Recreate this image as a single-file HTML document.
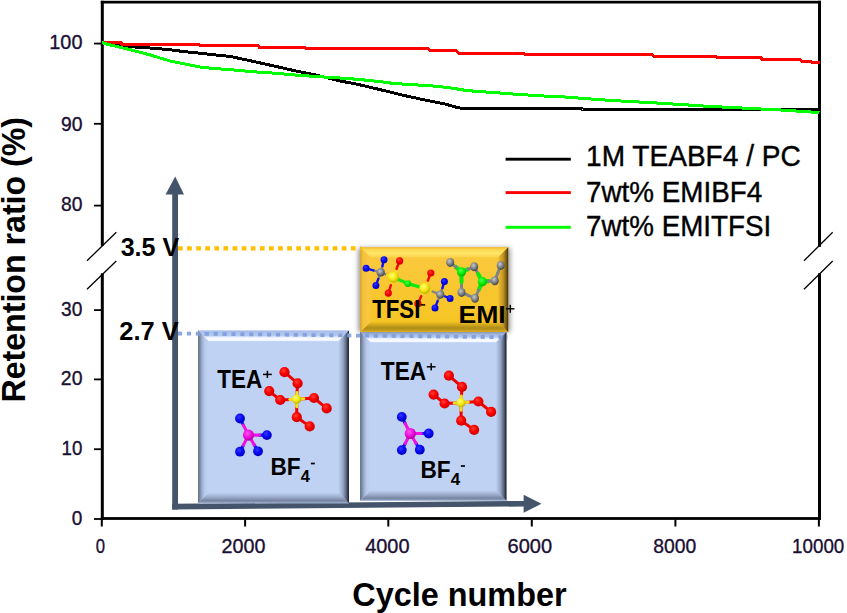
<!DOCTYPE html>
<html><head><meta charset="utf-8"><title>Retention ratio vs cycle number</title>
<style>html,body{margin:0;padding:0;background:#fff;}svg{display:block;}text{font-family:"Liberation Sans",sans-serif;}</style>
</head><body>
<svg width="847" height="613" viewBox="0 0 847 613">
<defs>
<linearGradient id="bL" x1="0" y1="0" x2="1" y2="0"><stop offset="0" stop-color="#66748f"/><stop offset="0.15" stop-color="#76859f"/><stop offset="0.4" stop-color="#a0b1d2"/><stop offset="0.65" stop-color="#b9ccee"/><stop offset="1" stop-color="#bfd2f4"/></linearGradient>
<linearGradient id="bR" x1="0" y1="0" x2="1" y2="0"><stop offset="0" stop-color="#bfd2f4"/><stop offset="0.45" stop-color="#93a3c2"/><stop offset="0.78" stop-color="#525e76"/><stop offset="0.9" stop-color="#2e3546"/><stop offset="1" stop-color="#1d212c"/></linearGradient>
<linearGradient id="bT" x1="0" y1="0" x2="0" y2="1"><stop offset="0" stop-color="#a6bcea"/><stop offset="0.48" stop-color="#b6caf0"/><stop offset="0.6" stop-color="#e4ecfa"/><stop offset="0.75" stop-color="#f8fbff"/><stop offset="0.93" stop-color="#f2f6fd"/><stop offset="1" stop-color="#d2e0f8"/></linearGradient>
<linearGradient id="bB" x1="0" y1="0" x2="0" y2="1"><stop offset="0" stop-color="#bfd2f4"/><stop offset="0.5" stop-color="#94a4c3"/><stop offset="0.75" stop-color="#7785a0"/><stop offset="0.9" stop-color="#8998b6"/><stop offset="1" stop-color="#a9b9d9"/></linearGradient>
<linearGradient id="oL" x1="0" y1="0" x2="1" y2="0"><stop offset="0" stop-color="#d39f2a"/><stop offset="0.25" stop-color="#f4c13c"/><stop offset="1" stop-color="#fac844"/></linearGradient>
<linearGradient id="oR" x1="0" y1="0" x2="1" y2="0"><stop offset="0" stop-color="#f2bd34"/><stop offset="0.5" stop-color="#c39422"/><stop offset="0.85" stop-color="#6e5410"/><stop offset="1" stop-color="#3a2c08"/></linearGradient>
<linearGradient id="oT" x1="0" y1="0" x2="0" y2="1"><stop offset="0" stop-color="#efb932"/><stop offset="0.22" stop-color="#fcd650"/><stop offset="0.6" stop-color="#ffe768"/><stop offset="1" stop-color="#fdd34a"/></linearGradient>
<linearGradient id="oB" x1="0" y1="0" x2="0" y2="1"><stop offset="0" stop-color="#f3c120"/><stop offset="0.6" stop-color="#ad8c18"/><stop offset="0.75" stop-color="#b9941a"/><stop offset="1" stop-color="#dcae20"/></linearGradient>
<linearGradient id="oF" x1="0" y1="0" x2="0" y2="1"><stop offset="0" stop-color="#fbc940"/><stop offset="0.5" stop-color="#f8c730"/><stop offset="1" stop-color="#f5c421"/></linearGradient>
<radialGradient id="gR" cx="0.4" cy="0.35" r="0.65"><stop offset="0" stop-color="#ff4030"/><stop offset="0.55" stop-color="#f80000"/><stop offset="1" stop-color="#cc0000"/></radialGradient>
<radialGradient id="gB" cx="0.4" cy="0.35" r="0.65"><stop offset="0" stop-color="#3038ff"/><stop offset="0.55" stop-color="#0808f4"/><stop offset="1" stop-color="#0000b8"/></radialGradient>
<radialGradient id="gY" cx="0.4" cy="0.35" r="0.65"><stop offset="0" stop-color="#ffff70"/><stop offset="0.55" stop-color="#f4e818"/><stop offset="1" stop-color="#c0b000"/></radialGradient>
<radialGradient id="gM" cx="0.4" cy="0.35" r="0.65"><stop offset="0" stop-color="#ff50f0"/><stop offset="0.55" stop-color="#f010e0"/><stop offset="1" stop-color="#b000a0"/></radialGradient>
<radialGradient id="gG" cx="0.4" cy="0.35" r="0.65"><stop offset="0" stop-color="#50ff50"/><stop offset="0.55" stop-color="#08f008"/><stop offset="1" stop-color="#00b800"/></radialGradient>
<radialGradient id="gC" cx="0.4" cy="0.35" r="0.65"><stop offset="0" stop-color="#c8c8c8"/><stop offset="0.55" stop-color="#808488"/><stop offset="1" stop-color="#44464a"/></radialGradient>
<filter id="sh" x="-10%" y="-10%" width="125%" height="125%"><feGaussianBlur stdDeviation="2.4"/></filter>
</defs>
<rect width="847" height="613" fill="#fff"/>
<polygon points="172.2,194 172.2,509.4 178,509.4 178,194" fill="#44546a"/>
<polygon points="175.2,176.5 165.6,194.5 184,194.5" fill="#44546a"/>
<polygon points="172.2,503.8 172.2,509.4 524,506.5 524,500.9" fill="#44546a"/>
<polygon points="541.5,503.7 523.6,494.8 523.6,512.8" fill="#44546a"/>
<rect x="198" y="330.6" width="151" height="172.59999999999997" fill="#bfd2f4"/>
<polygon points="198,330.6 349,330.6 338.4,341.20000000000005 208.6,341.20000000000005" fill="url(#bT)"/>
<polygon points="198,503.2 349,503.2 338.4,492.59999999999997 208.6,492.59999999999997" fill="url(#bB)"/>
<polygon points="198,330.6 208.6,341.20000000000005 208.6,492.59999999999997 198,503.2" fill="url(#bL)"/>
<polygon points="349,330.6 338.4,341.20000000000005 338.4,492.59999999999997 349,503.2" fill="url(#bR)"/>
<rect x="360" y="332.0" width="146.5" height="168.8" fill="#bfd2f4"/>
<polygon points="360,332.0 506.5,332.0 495.9,342.6 370.6,342.6" fill="url(#bT)"/>
<polygon points="360,500.8 506.5,500.8 495.9,490.2 370.6,490.2" fill="url(#bB)"/>
<polygon points="360,332.0 370.6,342.6 370.6,490.2 360,500.8" fill="url(#bL)"/>
<polygon points="506.5,332.0 495.9,342.6 495.9,490.2 506.5,500.8" fill="url(#bR)"/>
<rect x="358.5" y="248" width="151.5" height="84" fill="#444" opacity="0.6" filter="url(#sh)"/>
<rect x="360.3" y="247.2" width="147.89999999999998" height="84.69999999999999" fill="url(#oF)"/>
<polygon points="360.3,247.2 508.2,247.2 498.2,257.2 370.3,257.2" fill="url(#oT)"/>
<polygon points="360.3,331.9 508.2,331.9 498.2,321.9 370.3,321.9" fill="url(#oB)"/>
<polygon points="360.3,247.2 370.3,257.2 370.3,321.9 360.3,331.9" fill="url(#oL)"/>
<polygon points="508.2,247.2 498.2,257.2 498.2,321.9 508.2,331.9" fill="url(#oR)"/>
<line x1="178" y1="248.3" x2="361" y2="248.3" stroke="#ffc000" stroke-width="4.2" stroke-dasharray="4.7 4.4"/>
<line x1="178" y1="333.5" x2="507.8" y2="337.27" stroke="#7f9edb" stroke-width="3.8" stroke-dasharray="4.2 4.7" opacity="0.9"/>
<line x1="296.6" y1="399.2" x2="297.6" y2="383.4" stroke="#f00000" stroke-width="3" stroke-linecap="round"/>
<line x1="297.6" y1="383.4" x2="284.5" y2="372.2" stroke="#f00000" stroke-width="3" stroke-linecap="round"/>
<line x1="296.6" y1="399.2" x2="297.0" y2="392.6" stroke="#f0e020" stroke-width="3" stroke-linecap="round"/>
<line x1="296.6" y1="399.2" x2="280.2" y2="400.0" stroke="#f00000" stroke-width="3" stroke-linecap="round"/>
<line x1="280.2" y1="400.0" x2="269.2" y2="391.1" stroke="#f00000" stroke-width="3" stroke-linecap="round"/>
<line x1="296.6" y1="399.2" x2="289.7" y2="399.5" stroke="#f0e020" stroke-width="3" stroke-linecap="round"/>
<line x1="296.6" y1="399.2" x2="314.0" y2="398.0" stroke="#f00000" stroke-width="3" stroke-linecap="round"/>
<line x1="314.0" y1="398.0" x2="326.7" y2="408.4" stroke="#f00000" stroke-width="3" stroke-linecap="round"/>
<line x1="296.6" y1="399.2" x2="303.9" y2="398.7" stroke="#f0e020" stroke-width="3" stroke-linecap="round"/>
<line x1="296.6" y1="399.2" x2="296.8" y2="417.2" stroke="#f00000" stroke-width="3" stroke-linecap="round"/>
<line x1="296.8" y1="417.2" x2="309.7" y2="426.4" stroke="#f00000" stroke-width="3" stroke-linecap="round"/>
<line x1="296.6" y1="399.2" x2="296.7" y2="406.8" stroke="#f0e020" stroke-width="3" stroke-linecap="round"/>
<circle cx="284.5" cy="372.2" r="5.1" fill="url(#gR)"/>
<circle cx="297.6" cy="383.4" r="5.1" fill="url(#gR)"/>
<circle cx="269.2" cy="391.1" r="5.1" fill="url(#gR)"/>
<circle cx="280.2" cy="400.0" r="5.1" fill="url(#gR)"/>
<circle cx="314.0" cy="398.0" r="5.1" fill="url(#gR)"/>
<circle cx="326.7" cy="408.4" r="5.1" fill="url(#gR)"/>
<circle cx="296.8" cy="417.2" r="5.1" fill="url(#gR)"/>
<circle cx="309.7" cy="426.4" r="5.1" fill="url(#gR)"/>
<circle cx="296.6" cy="399.2" r="4.6" fill="url(#gY)"/>
<line x1="243.4" y1="425.1" x2="240.0" y2="418.5" stroke="#1010f0" stroke-width="3.1" stroke-linecap="round"/>
<line x1="248.5" y1="435.1" x2="243.4" y2="425.1" stroke="#f010e0" stroke-width="3.1" stroke-linecap="round"/>
<line x1="259.5" y1="435.1" x2="266.9" y2="435.1" stroke="#1010f0" stroke-width="3.1" stroke-linecap="round"/>
<line x1="248.5" y1="435.1" x2="259.5" y2="435.1" stroke="#f010e0" stroke-width="3.1" stroke-linecap="round"/>
<line x1="243.4" y1="445.1" x2="240.0" y2="451.7" stroke="#1010f0" stroke-width="3.1" stroke-linecap="round"/>
<line x1="248.5" y1="435.1" x2="243.4" y2="445.1" stroke="#f010e0" stroke-width="3.1" stroke-linecap="round"/>
<line x1="254.2" y1="444.8" x2="258.0" y2="451.3" stroke="#1010f0" stroke-width="3.1" stroke-linecap="round"/>
<line x1="248.5" y1="435.1" x2="254.2" y2="444.8" stroke="#f010e0" stroke-width="3.1" stroke-linecap="round"/>
<circle cx="240.0" cy="418.5" r="4.9" fill="url(#gB)"/>
<circle cx="266.9" cy="435.1" r="4.9" fill="url(#gB)"/>
<circle cx="240.0" cy="451.7" r="4.9" fill="url(#gB)"/>
<circle cx="258.0" cy="451.3" r="4.9" fill="url(#gB)"/>
<circle cx="248.5" cy="435.1" r="5.6" fill="url(#gM)"/>
<line x1="461.0" y1="402.7" x2="462.0" y2="386.9" stroke="#f00000" stroke-width="3" stroke-linecap="round"/>
<line x1="462.0" y1="386.9" x2="448.9" y2="375.7" stroke="#f00000" stroke-width="3" stroke-linecap="round"/>
<line x1="461.0" y1="402.7" x2="461.4" y2="396.1" stroke="#f0e020" stroke-width="3" stroke-linecap="round"/>
<line x1="461.0" y1="402.7" x2="444.6" y2="403.5" stroke="#f00000" stroke-width="3" stroke-linecap="round"/>
<line x1="444.6" y1="403.5" x2="433.6" y2="394.6" stroke="#f00000" stroke-width="3" stroke-linecap="round"/>
<line x1="461.0" y1="402.7" x2="454.1" y2="403.0" stroke="#f0e020" stroke-width="3" stroke-linecap="round"/>
<line x1="461.0" y1="402.7" x2="478.4" y2="401.5" stroke="#f00000" stroke-width="3" stroke-linecap="round"/>
<line x1="478.4" y1="401.5" x2="491.1" y2="411.9" stroke="#f00000" stroke-width="3" stroke-linecap="round"/>
<line x1="461.0" y1="402.7" x2="468.3" y2="402.2" stroke="#f0e020" stroke-width="3" stroke-linecap="round"/>
<line x1="461.0" y1="402.7" x2="461.2" y2="420.7" stroke="#f00000" stroke-width="3" stroke-linecap="round"/>
<line x1="461.2" y1="420.7" x2="474.1" y2="429.9" stroke="#f00000" stroke-width="3" stroke-linecap="round"/>
<line x1="461.0" y1="402.7" x2="461.1" y2="410.3" stroke="#f0e020" stroke-width="3" stroke-linecap="round"/>
<circle cx="448.9" cy="375.7" r="5.1" fill="url(#gR)"/>
<circle cx="462.0" cy="386.9" r="5.1" fill="url(#gR)"/>
<circle cx="433.6" cy="394.6" r="5.1" fill="url(#gR)"/>
<circle cx="444.6" cy="403.5" r="5.1" fill="url(#gR)"/>
<circle cx="478.4" cy="401.5" r="5.1" fill="url(#gR)"/>
<circle cx="491.1" cy="411.9" r="5.1" fill="url(#gR)"/>
<circle cx="461.2" cy="420.7" r="5.1" fill="url(#gR)"/>
<circle cx="474.1" cy="429.9" r="5.1" fill="url(#gR)"/>
<circle cx="461.0" cy="402.7" r="4.6" fill="url(#gY)"/>
<line x1="405.2" y1="423.5" x2="401.8" y2="416.9" stroke="#1010f0" stroke-width="3.1" stroke-linecap="round"/>
<line x1="410.3" y1="433.5" x2="405.2" y2="423.5" stroke="#f010e0" stroke-width="3.1" stroke-linecap="round"/>
<line x1="421.3" y1="433.5" x2="428.7" y2="433.5" stroke="#1010f0" stroke-width="3.1" stroke-linecap="round"/>
<line x1="410.3" y1="433.5" x2="421.3" y2="433.5" stroke="#f010e0" stroke-width="3.1" stroke-linecap="round"/>
<line x1="405.2" y1="443.5" x2="401.8" y2="450.1" stroke="#1010f0" stroke-width="3.1" stroke-linecap="round"/>
<line x1="410.3" y1="433.5" x2="405.2" y2="443.5" stroke="#f010e0" stroke-width="3.1" stroke-linecap="round"/>
<line x1="416.0" y1="443.2" x2="419.8" y2="449.7" stroke="#1010f0" stroke-width="3.1" stroke-linecap="round"/>
<line x1="410.3" y1="433.5" x2="416.0" y2="443.2" stroke="#f010e0" stroke-width="3.1" stroke-linecap="round"/>
<circle cx="401.8" cy="416.9" r="4.9" fill="url(#gB)"/>
<circle cx="428.7" cy="433.5" r="4.9" fill="url(#gB)"/>
<circle cx="401.8" cy="450.1" r="4.9" fill="url(#gB)"/>
<circle cx="419.8" cy="449.7" r="4.9" fill="url(#gB)"/>
<circle cx="410.3" cy="433.5" r="5.6" fill="url(#gM)"/>
<line x1="380.7" y1="272.4" x2="382.4" y2="266.1" stroke="#808488" stroke-width="2.4" stroke-linecap="round"/>
<line x1="382.4" y1="266.1" x2="384.0" y2="259.8" stroke="#1010f0" stroke-width="2.4" stroke-linecap="round"/>
<line x1="380.7" y1="272.4" x2="373.4" y2="270.4" stroke="#808488" stroke-width="2.4" stroke-linecap="round"/>
<line x1="373.4" y1="270.4" x2="366.1" y2="268.3" stroke="#1010f0" stroke-width="2.4" stroke-linecap="round"/>
<line x1="380.7" y1="272.4" x2="378.3" y2="278.9" stroke="#808488" stroke-width="2.4" stroke-linecap="round"/>
<line x1="378.3" y1="278.9" x2="375.9" y2="285.4" stroke="#1010f0" stroke-width="2.4" stroke-linecap="round"/>
<line x1="380.7" y1="272.4" x2="387.0" y2="274.8" stroke="#808488" stroke-width="2.4" stroke-linecap="round"/>
<line x1="387.0" y1="274.8" x2="393.4" y2="277.2" stroke="#f0e018" stroke-width="2.4" stroke-linecap="round"/>
<line x1="393.4" y1="277.2" x2="396.5" y2="269.0" stroke="#f0e018" stroke-width="2.4" stroke-linecap="round"/>
<line x1="396.5" y1="269.0" x2="399.6" y2="260.9" stroke="#f00808" stroke-width="2.4" stroke-linecap="round"/>
<line x1="393.4" y1="277.2" x2="390.9" y2="285.1" stroke="#f0e018" stroke-width="2.4" stroke-linecap="round"/>
<line x1="390.9" y1="285.1" x2="388.3" y2="293.1" stroke="#f00808" stroke-width="2.4" stroke-linecap="round"/>
<line x1="424.7" y1="288.4" x2="427.8" y2="280.7" stroke="#f0e018" stroke-width="2.4" stroke-linecap="round"/>
<line x1="427.8" y1="280.7" x2="430.8" y2="273.0" stroke="#f00808" stroke-width="2.4" stroke-linecap="round"/>
<line x1="424.7" y1="288.4" x2="421.3" y2="296.0" stroke="#f0e018" stroke-width="2.4" stroke-linecap="round"/>
<line x1="421.3" y1="296.0" x2="417.9" y2="303.7" stroke="#f00808" stroke-width="2.4" stroke-linecap="round"/>
<line x1="424.7" y1="288.4" x2="432.5" y2="291.5" stroke="#f0e018" stroke-width="2.4" stroke-linecap="round"/>
<line x1="432.5" y1="291.5" x2="440.3" y2="294.6" stroke="#808488" stroke-width="2.4" stroke-linecap="round"/>
<line x1="440.3" y1="294.6" x2="442.4" y2="288.1" stroke="#808488" stroke-width="2.4" stroke-linecap="round"/>
<line x1="442.4" y1="288.1" x2="444.4" y2="281.6" stroke="#1010f0" stroke-width="2.4" stroke-linecap="round"/>
<line x1="440.3" y1="294.6" x2="445.2" y2="296.5" stroke="#808488" stroke-width="2.4" stroke-linecap="round"/>
<line x1="445.2" y1="296.5" x2="450.1" y2="298.4" stroke="#1010f0" stroke-width="2.4" stroke-linecap="round"/>
<line x1="440.3" y1="294.6" x2="437.6" y2="301.2" stroke="#808488" stroke-width="2.4" stroke-linecap="round"/>
<line x1="437.6" y1="301.2" x2="435.0" y2="307.9" stroke="#1010f0" stroke-width="2.4" stroke-linecap="round"/>
<line x1="393.4" y1="277.2" x2="407.8" y2="283.6" stroke="#10e810" stroke-width="3.2" stroke-linecap="round"/>
<line x1="407.8" y1="283.6" x2="424.7" y2="288.4" stroke="#10e810" stroke-width="3.2" stroke-linecap="round"/>
<circle cx="384.0" cy="259.8" r="3.5" fill="url(#gB)"/>
<circle cx="366.1" cy="268.3" r="3.5" fill="url(#gB)"/>
<circle cx="375.9" cy="285.4" r="3.5" fill="url(#gB)"/>
<circle cx="380.7" cy="272.4" r="4.1" fill="url(#gC)"/>
<circle cx="393.4" cy="277.2" r="5.5" fill="url(#gY)"/>
<circle cx="399.6" cy="260.9" r="3.6" fill="url(#gR)"/>
<circle cx="388.3" cy="293.1" r="3.6" fill="url(#gR)"/>
<circle cx="407.8" cy="283.6" r="3.4" fill="url(#gG)"/>
<circle cx="424.7" cy="288.4" r="5.5" fill="url(#gY)"/>
<circle cx="430.8" cy="273.0" r="3.6" fill="url(#gR)"/>
<circle cx="417.9" cy="303.7" r="3.6" fill="url(#gR)"/>
<circle cx="440.3" cy="294.6" r="4.1" fill="url(#gC)"/>
<circle cx="444.4" cy="281.6" r="3.5" fill="url(#gB)"/>
<circle cx="450.1" cy="298.4" r="3.5" fill="url(#gB)"/>
<circle cx="435.0" cy="307.9" r="3.5" fill="url(#gB)"/>
<line x1="461.5" y1="271.9" x2="455.9" y2="267.1" stroke="#10e810" stroke-width="4.2" stroke-linecap="round"/>
<line x1="455.9" y1="267.1" x2="450.2" y2="262.4" stroke="#808488" stroke-width="3.0" stroke-linecap="round"/>
<line x1="461.5" y1="271.9" x2="467.9" y2="269.3" stroke="#10e810" stroke-width="4.2" stroke-linecap="round"/>
<line x1="467.9" y1="269.3" x2="474.2" y2="266.7" stroke="#808488" stroke-width="3.0" stroke-linecap="round"/>
<line x1="474.2" y1="266.7" x2="478.3" y2="274.2" stroke="#808488" stroke-width="3.0" stroke-linecap="round"/>
<line x1="478.3" y1="274.2" x2="482.4" y2="281.7" stroke="#10e810" stroke-width="4.2" stroke-linecap="round"/>
<line x1="482.4" y1="281.7" x2="478.7" y2="290.0" stroke="#10e810" stroke-width="4.2" stroke-linecap="round"/>
<line x1="478.7" y1="290.0" x2="475.0" y2="298.3" stroke="#808488" stroke-width="3.0" stroke-linecap="round"/>
<line x1="475.0" y1="298.3" x2="468.2" y2="295.4" stroke="#808488" stroke-width="3.0" stroke-linecap="round"/>
<line x1="468.2" y1="295.4" x2="461.5" y2="292.4" stroke="#808488" stroke-width="3.0" stroke-linecap="round"/>
<line x1="461.5" y1="292.4" x2="461.5" y2="282.1" stroke="#808488" stroke-width="3.0" stroke-linecap="round"/>
<line x1="461.5" y1="282.1" x2="461.5" y2="271.9" stroke="#10e810" stroke-width="4.2" stroke-linecap="round"/>
<line x1="482.4" y1="281.7" x2="488.6" y2="281.2" stroke="#10e810" stroke-width="4.2" stroke-linecap="round"/>
<line x1="488.6" y1="281.2" x2="494.8" y2="280.7" stroke="#808488" stroke-width="3.0" stroke-linecap="round"/>
<line x1="494.8" y1="280.7" x2="497.8" y2="273.0" stroke="#808488" stroke-width="3.0" stroke-linecap="round"/>
<line x1="497.8" y1="273.0" x2="500.7" y2="265.4" stroke="#808488" stroke-width="3.0" stroke-linecap="round"/>
<ellipse cx="450.2" cy="262.4" rx="4.0" ry="4.5" fill="url(#gC)"/>
<circle cx="461.5" cy="271.9" r="4.6" fill="url(#gG)"/>
<ellipse cx="474.2" cy="266.7" rx="4.0" ry="4.5" fill="url(#gC)"/>
<circle cx="482.4" cy="281.7" r="4.6" fill="url(#gG)"/>
<ellipse cx="475" cy="298.3" rx="4.0" ry="4.5" fill="url(#gC)"/>
<ellipse cx="461.5" cy="292.4" rx="4.0" ry="4.5" fill="url(#gC)"/>
<ellipse cx="494.8" cy="280.7" rx="4.0" ry="4.5" fill="url(#gC)"/>
<ellipse cx="500.7" cy="265.4" rx="4.0" ry="4.5" fill="url(#gC)"/>
<text transform="translate(120.65 256.10) scale(0.9903 1)" font-size="25.30" font-weight="bold" fill="#000">3.5 V</text>
<text transform="translate(119.34 339.50) scale(1.0041 1)" font-size="25.30" font-weight="bold" fill="#000">2.7 V</text>
<text transform="translate(217.35 388.00) scale(0.8802 1)" font-size="25.58" font-weight="bold" fill="#000">TEA</text>
<rect x="263.00" y="373.65" width="8.8" height="1.5" fill="#000"/>
<rect x="266.65" y="370.80" width="1.5" height="7.2" fill="#000"/>
<text transform="translate(380.75 380.40) scale(0.8882 1)" font-size="25.58" font-weight="bold" fill="#000">TEA</text>
<rect x="426.80" y="366.05" width="8.8" height="1.5" fill="#000"/>
<rect x="430.45" y="363.20" width="1.5" height="7.2" fill="#000"/>
<text transform="translate(270.50 475.30) scale(0.9282 1)" font-size="24.42" font-weight="bold" fill="#000">BF</text>
<text transform="translate(300.85 482.10) scale(0.9879 1)" font-size="16.62" font-weight="bold" fill="#000">4</text>
<rect x="310.9" y="462.65" width="3.900000000000034" height="1.7" fill="#000"/>
<text transform="translate(420.50 478.10) scale(0.9282 1)" font-size="24.42" font-weight="bold" fill="#000">BF</text>
<text transform="translate(450.85 485.00) scale(1.0216 1)" font-size="16.62" font-weight="bold" fill="#000">4</text>
<rect x="460.9" y="465.15" width="4.100000000000023" height="1.7" fill="#000"/>
<text transform="translate(372.16 317.90) scale(0.8904 1)" font-size="25.00" font-weight="bold" fill="#000">TFSI</text>
<rect x="420.8" y="304.15" width="4.399999999999977" height="1.5" fill="#000"/>
<text transform="translate(458.44 322.50) scale(1.0904 1)" font-size="24.42" font-weight="bold" fill="#000">EMI</text>
<rect x="506.20" y="308.10" width="8.2" height="1.4" fill="#000"/>
<rect x="509.60" y="304.85" width="1.4" height="7.9" fill="#000"/>
<rect x="100.8" y="0.8" width="3" height="245" fill="#000"/>
<rect x="100.8" y="273.3" width="3" height="246.7" fill="#000"/>
<rect x="818" y="0.8" width="3" height="246" fill="#000"/>
<rect x="818" y="273.3" width="3" height="246.7" fill="#000"/>
<rect x="100.8" y="0.8" width="720.2" height="2.7" fill="#000"/>
<rect x="100.8" y="517.1" width="720.2" height="2.8" fill="#000"/>
<line x1="87" y1="260.8" x2="116.3" y2="232.2" stroke="#000" stroke-width="1.3"/>
<line x1="87" y1="289.3" x2="116.3" y2="261" stroke="#000" stroke-width="1.3"/>
<line x1="804" y1="260.8" x2="832.7" y2="232.2" stroke="#000" stroke-width="1.3"/>
<line x1="804" y1="289.3" x2="832.7" y2="261" stroke="#000" stroke-width="1.3"/>
<rect x="94" y="42.65" width="7.2" height="1.8" fill="#000"/>
<text transform="translate(49.29 48.80) scale(0.9560 1)" font-size="20.80" font-weight="normal" fill="#1a0f33" stroke="#1a0f33" stroke-width="0.35">100</text>
<rect x="94" y="122.90" width="7.2" height="1.8" fill="#000"/>
<text transform="translate(60.91 131.00) scale(0.9307 1)" font-size="20.80" font-weight="normal" fill="#1a0f33" stroke="#1a0f33" stroke-width="0.35">90</text>
<rect x="94" y="204.70" width="7.2" height="1.8" fill="#000"/>
<text transform="translate(60.97 211.20) scale(0.9280 1)" font-size="20.80" font-weight="normal" fill="#1a0f33" stroke="#1a0f33" stroke-width="0.35">80</text>
<rect x="94" y="309.20" width="7.2" height="1.8" fill="#000"/>
<text transform="translate(61.07 316.10) scale(0.9235 1)" font-size="20.80" font-weight="normal" fill="#1a0f33" stroke="#1a0f33" stroke-width="0.35">30</text>
<rect x="94" y="378.50" width="7.2" height="1.8" fill="#000"/>
<text transform="translate(60.83 385.20) scale(0.9343 1)" font-size="20.80" font-weight="normal" fill="#1a0f33" stroke="#1a0f33" stroke-width="0.35">20</text>
<rect x="94" y="448.30" width="7.2" height="1.8" fill="#000"/>
<text transform="translate(61.58 455.00) scale(0.9008 1)" font-size="20.80" font-weight="normal" fill="#1a0f33" stroke="#1a0f33" stroke-width="0.35">10</text>
<rect x="94" y="518.10" width="7.2" height="1.8" fill="#000"/>
<text transform="translate(71.86 524.90) scale(0.9134 1)" font-size="20.80" font-weight="normal" fill="#1a0f33" stroke="#1a0f33" stroke-width="0.35">0</text>
<rect x="100.80" y="519.5" width="2" height="7.0" fill="#000"/>
<text transform="translate(95.75 553.30) scale(0.8030 1)" font-size="20.80" font-weight="normal" fill="#1a0f33" stroke="#1a0f33" stroke-width="0.35">0</text>
<rect x="244.10" y="519.5" width="2" height="7.0" fill="#000"/>
<text transform="translate(221.61 553.30) scale(0.9476 1)" font-size="20.80" font-weight="normal" fill="#1a0f33" stroke="#1a0f33" stroke-width="0.35">2000</text>
<rect x="387.30" y="519.5" width="2" height="7.0" fill="#000"/>
<text transform="translate(365.16 553.30) scale(0.9598 1)" font-size="20.80" font-weight="normal" fill="#1a0f33" stroke="#1a0f33" stroke-width="0.35">4000</text>
<rect x="530.80" y="519.5" width="2" height="7.0" fill="#000"/>
<text transform="translate(507.60 553.30) scale(0.9633 1)" font-size="20.80" font-weight="normal" fill="#1a0f33" stroke="#1a0f33" stroke-width="0.35">6000</text>
<rect x="674.40" y="519.5" width="2" height="7.0" fill="#000"/>
<text transform="translate(653.27 553.30) scale(0.9288 1)" font-size="20.80" font-weight="normal" fill="#1a0f33" stroke="#1a0f33" stroke-width="0.35">8000</text>
<rect x="817.90" y="519.5" width="2" height="7.0" fill="#000"/>
<text transform="translate(792.07 553.30) scale(0.9031 1)" font-size="20.80" font-weight="normal" fill="#1a0f33" stroke="#1a0f33" stroke-width="0.35">10000</text>
<polyline points="102.0,42.6 135.4,47.0 156.7,48.5 170.8,49.9 185.0,51.7 199.2,53.1 213.3,54.8 220.6,55.3 231.0,56.6 252.5,61.2 273.7,65.9 295.0,70.8 316.0,75.1 337.5,80.4 358.7,84.6 380.0,89.6 401.0,94.8 422.5,99.5 443.7,103.7 457.6,107.6 460.0,108.0 581.0,108.0 582.5,109.5 819.5,109.5" fill="none" stroke="#000" stroke-width="3" stroke-linejoin="miter" shape-rendering="crispEdges"/>
<polyline points="102.0,42.4 121.0,42.4 122.0,44.2 199.0,44.2 200.0,45.7 258.0,45.7 259.5,47.4 305.0,47.4 306.5,48.9 428.0,48.9 430.0,50.2 456.0,50.2 459.0,53.2 523.5,53.2 525.5,54.9 652.0,54.9 654.0,56.4 716.0,56.4 718.0,57.9 761.0,57.9 762.5,59.4 800.0,59.4 801.5,61.2 810.5,61.2 812.0,62.6 819.5,62.6" fill="none" stroke="#ff0000" stroke-width="3" stroke-linejoin="miter" shape-rendering="crispEdges"/>
<polyline points="102.0,42.6 107.0,44.2 128.3,49.2 149.6,54.8 170.8,61.2 185.0,64.0 199.2,66.9 213.3,68.5 231.0,69.7 252.5,71.7 273.7,73.1 295.0,75.0 316.0,76.5 337.5,77.8 358.7,79.4 380.0,81.6 395.0,83.6 418.0,85.0 437.0,86.3 454.0,88.4 467.0,90.6 492.6,92.5 516.0,94.2 541.5,95.9 565.0,97.0 588.0,98.8 613.7,100.6 637.0,101.9 663.7,103.4 687.0,104.9 709.0,106.4 734.7,107.6 759.0,108.9 785.0,110.2 807.6,111.8 819.5,112.6" fill="none" stroke="#00ff00" stroke-width="3" stroke-linejoin="miter" shape-rendering="crispEdges"/>
<rect x="505.6" y="157.75" width="65.2" height="2.9" fill="#000"/>
<rect x="505.6" y="191.15" width="65.2" height="2.9" fill="#ff0000"/>
<rect x="505.6" y="225.85" width="65.2" height="2.9" fill="#00ff00"/>
<text transform="translate(586.07 166.40) scale(0.9748 1)" font-size="28.80" font-weight="normal" fill="#000" stroke="#000" stroke-width="0.4">1M TEABF4 / PC</text>
<text transform="translate(586.08 201.50) scale(0.9653 1)" font-size="28.80" font-weight="normal" fill="#000" stroke="#000" stroke-width="0.4">7wt% EMIBF4</text>
<text transform="translate(586.08 236.10) scale(0.9648 1)" font-size="28.80" font-weight="normal" fill="#000" stroke="#000" stroke-width="0.4">7wt% EMITFSI</text>
<text transform="translate(352.27 606.20) scale(1.0037 1)" font-size="32.30" font-weight="bold" fill="#000">Cycle number</text>
<text transform="translate(25.2 402.52) rotate(-90) scale(0.9856 1)" font-size="32.6" font-weight="bold" fill="#000">Retention ratio (%)</text>
</svg></body></html>
